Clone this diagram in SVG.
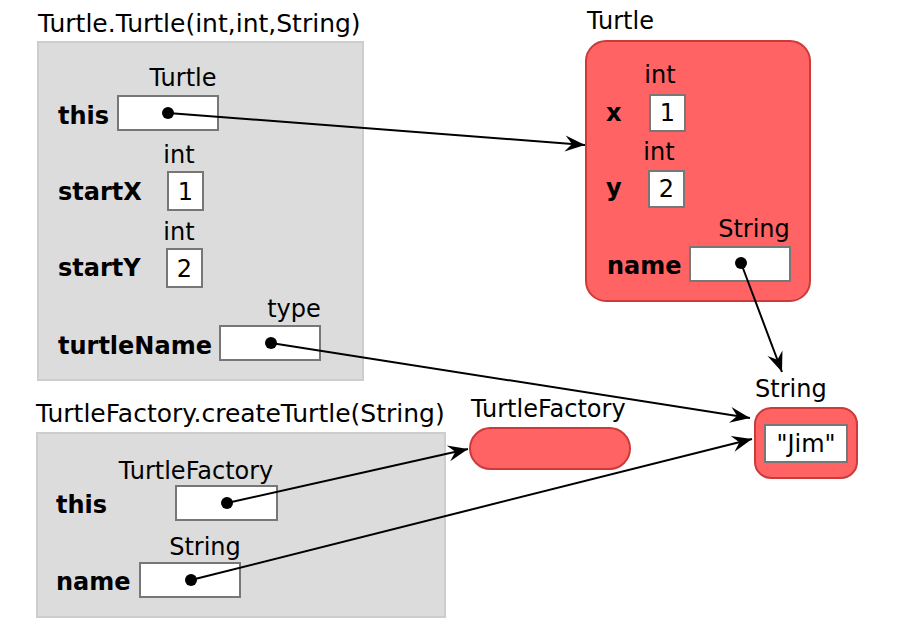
<svg xmlns="http://www.w3.org/2000/svg" width="898" height="643" viewBox="0 0 898 643">
<defs>
<style>
text{font-family:"DejaVu Sans","Liberation Sans",sans-serif;font-size:24px;fill:#000}
.title{font-size:25px}
.b{font-weight:bold}
.m{text-anchor:middle}
.frame{fill:#dcdcdc;stroke:#cdcdcd;stroke-width:2}
.obj{fill:#ff6363;stroke:#cc3a3a;stroke-width:2}
.box{fill:#fff;stroke:#777;stroke-width:2}
.dot{fill:#000}
.edge{fill:none;stroke:#000;stroke-width:2;marker-end:url(#arr)}
</style>
<marker id="arr" viewBox="-21 -10 23 20" refX="0" refY="0" markerWidth="23" markerHeight="20" markerUnits="userSpaceOnUse" orient="auto">
<path d="M-20,-8 L0,0 L-20,8 L-13,0 Z" fill="#000"/>
</marker>
</defs>
<rect width="898" height="643" fill="#fff"/>

<g id="frame-turtle">
<text class="title" x="38" y="32">Turtle.Turtle(int,int,String)</text>
<rect class="frame" x="38" y="42" width="325" height="338"/>
<text class="m" x="183" y="86">Turtle</text>
<text class="b" x="58" y="124">this</text>
<rect class="box" x="118" y="96" width="100" height="34"/>
<circle class="dot" cx="168" cy="113" r="6"/>
<text class="m" x="179" y="163">int</text>
<text class="b" x="58" y="200">startX</text>
<rect class="box" x="168" y="172" width="35" height="38"/>
<text class="m" x="185.5" y="200">1</text>
<text class="m" x="179" y="240">int</text>
<text class="b" x="58" y="276">startY</text>
<rect class="box" x="167" y="249" width="35" height="38"/>
<text class="m" x="184.5" y="277">2</text>
<text class="m" x="294" y="317">type</text>
<text class="b" x="58" y="354">turtleName</text>
<rect class="box" x="220" y="326" width="100" height="34"/>
<circle class="dot" cx="271" cy="343" r="6"/>
</g>

<g id="frame-factory">
<text class="title" x="36" y="422">TurtleFactory.createTurtle(String)</text>
<rect class="frame" x="37" y="433" width="408" height="184"/>
<text class="m" x="196" y="479">TurtleFactory</text>
<text class="b" x="56" y="513">this</text>
<rect class="box" x="176" y="486" width="101" height="34"/>
<circle class="dot" cx="227" cy="503" r="6"/>
<text class="m" x="205" y="555">String</text>
<text class="b" x="56" y="590">name</text>
<rect class="box" x="140" y="563" width="100" height="34"/>
<circle class="dot" cx="191" cy="580" r="6"/>
</g>

<g id="obj-turtle">
<text x="587" y="29">Turtle</text>
<rect class="obj" x="586" y="41" width="224" height="260" rx="20"/>
<text class="m" x="660" y="83">int</text>
<text class="b" x="606" y="121">x</text>
<rect class="box" x="650" y="95" width="35" height="36"/>
<text class="m" x="667.5" y="121">1</text>
<text class="m" x="659" y="160">int</text>
<text class="b" x="606" y="196">y</text>
<rect class="box" x="649" y="171" width="35" height="36"/>
<text class="m" x="666.5" y="197">2</text>
<text class="m" x="754" y="237">String</text>
<text class="b" x="607" y="274">name</text>
<rect class="box" x="690" y="247" width="100" height="34"/>
<circle class="dot" cx="741" cy="263" r="6"/>
</g>

<g id="obj-factory">
<text x="471" y="417">TurtleFactory</text>
<rect class="obj" x="470" y="428" width="160" height="41" rx="20.5"/>
</g>

<g id="obj-string">
<text x="755" y="397">String</text>
<rect class="obj" x="755" y="408" width="102" height="70" rx="16"/>
<rect class="box" x="765" y="425" width="82" height="37"/>
<text class="m" x="806" y="452">"Jim"</text>
</g>

<g id="connectors">
<line class="edge" x1="168" y1="113" x2="585" y2="145"/>
<line class="edge" x1="741" y1="263" x2="782" y2="372"/>
<line class="edge" x1="271" y1="343" x2="750" y2="418"/>
<line class="edge" x1="227" y1="503" x2="468" y2="449"/>
<line class="edge" x1="191" y1="580" x2="752" y2="439"/>
</g>
</svg>
